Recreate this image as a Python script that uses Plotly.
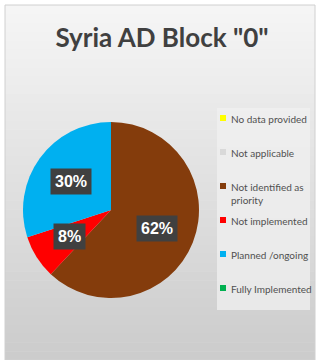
import math
import plotly.graph_objects as go

# data
categories = ["No data provided", "Not applicable", "Not identified as<br>priority",
              "Not implemented", "Planned /ongoing", "Fully Implemented"]
values = [0, 0, 62, 8, 30, 0]
colors = ["#ffff00", "#d9d9d9", "#843c0c", "#ff0000", "#00b0f0", "#00b050"]
title_text = 'Syria AD Block "0"'

W, H = 320, 360
# pie placement (px)
pcx, pcy, prad = 111, 210, 88

fig = go.Figure()

fig.add_trace(go.Pie(
    labels=categories, values=values, marker=dict(colors=colors, line=dict(width=0)),
    sort=False, direction="clockwise", rotation=0, textinfo="none",
    showlegend=False, hoverinfo="label+percent",
    domain=dict(x=[(pcx - prad) / W, (pcx + prad) / W],
                y=[(H - pcy - prad) / H, (H - pcy + prad) / H]),
))

# custom legend drawn as a scatter on its own axes
fig.add_trace(go.Scatter(
    x=[6] * len(categories), y=list(range(len(categories))), mode="markers",
    marker=dict(symbol="square", size=6, color=colors), xaxis="x", yaxis="y",
    showlegend=False, hoverinfo="skip",
))

annotations = []
for i, c in enumerate(categories):
    annotations.append(dict(
        x=12, y=i, xref="x", yref="y", text=c, showarrow=False,
        xanchor="left", yanchor="top", yshift=7, align="left",
        font=dict(family="Lato", size=10, color="#505050"),
    ))

# percentage labels, dark boxes, placed from the slice angles
total = sum(values)
cum = 0
for v in values:
    if v > 0:
        mid = (cum + v / 2) / total * 2 * math.pi
        d = 0.56 * prad
        lx = pcx + d * math.sin(mid)
        ly = pcy - d * math.cos(mid)
        annotations.append(dict(
            x=lx / W, y=1 - ly / H, xref="paper", yref="paper",
            xanchor="center", yanchor="middle",
            text=f"<b>{round(v / total * 100)}%</b>", showarrow=False,
            bgcolor="#404040", borderpad=4,
            font=dict(family="Liberation Sans", size=16, color="white"),
        ))
    cum += v

# background panel with vertical gradient bands
shapes = []
n = 40
top, bot = 5, 360
c0, c1 = 245, 204
for k in range(n):
    y0 = top + (bot - top) * k / n
    y1 = top + (bot - top) * (k + 1) / n + 0.5
    g = round(c0 + (c1 - c0) * k / (n - 1))
    shapes.append(dict(type="rect", xref="paper", yref="paper",
                       x0=5 / W, x1=315 / W, y0=1 - y1 / H, y1=1 - y0 / H,
                       fillcolor=f"rgb({g},{g},{g})", line=dict(width=0), layer="below"))
shapes.append(dict(type="rect", xref="paper", yref="paper",
                   x0=5 / W, x1=315 / W, y0=0, y1=1 - top / H,
                   fillcolor="rgba(0,0,0,0)", line=dict(width=1, color="#d0d0d0"), layer="below"))
# legend box
shapes.append(dict(type="rect", xref="paper", yref="paper",
                   x0=217 / W, x1=310 / W, y0=1 - 310 / H, y1=1 - 108 / H,
                   fillcolor="rgba(240,240,240,0.75)", line=dict(width=0), layer="below"))

fig.update_layout(
    width=W, height=H, margin=dict(l=0, r=0, t=0, b=0),
    paper_bgcolor="white", plot_bgcolor="rgba(0,0,0,0)",
    title=dict(text=f"<b>{title_text}</b>", x=162 / W, xanchor="center",
               y=1 - 38 / H, yanchor="middle", yref="paper",
               font=dict(family="Lato", size=26, color="#404040")),
    xaxis=dict(domain=[217 / W, 310 / W], range=[0, 93], visible=False, fixedrange=True),
    yaxis=dict(domain=[1 - 310 / H, 1 - 108 / H], range=[192 / 34, -10 / 34],
               visible=False, fixedrange=True),
    shapes=shapes, annotations=annotations,
)

fig.write_html("out.html", config=dict(displayModeBar=False),
               post_script="document.body.style.margin='0';document.body.style.overflow='hidden';")
